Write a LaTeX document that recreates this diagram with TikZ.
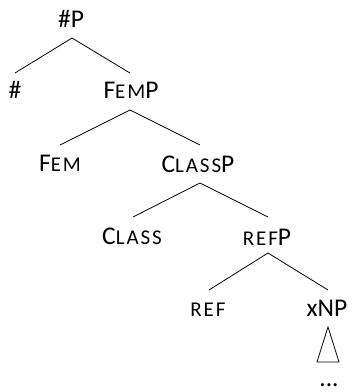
\documentclass[tikz,border=0pt]{standalone}
\usepackage{fontspec}
\setmainfont{Carlito}
\newcommand{\fsc}[1]{{\fontsize{21pt}{23pt}\selectfont\addfontfeature{LetterSpace=9}#1}}
\begin{document}
\begin{tikzpicture}[x=1pt,y=1pt,
  lab/.style={anchor=base,inner sep=0pt,font=\fontsize{25.5pt}{28pt}\selectfont},
  br/.style={line width=0.8pt}]
\useasboundingbox (0,0) rectangle (353,-392);
\node[lab] (hp) at (71,-27) {\#P};
\node[lab] (h) at (15,-98) {\#};
\node[lab] (fp) at (131,-98) {F\fsc{EM}P};
\node[lab] (f) at (60,-171) {F\fsc{EM}};
\node[lab] (cp) at (198,-172) {C\fsc{LASS}P};
\node[lab] (c) at (132,-244) {C\fsc{LASS}};
\node[lab] (rp) at (267,-245) {\fsc{REF}P};
\node[lab] (r) at (208,-316) {\fsc{REF}};
\node[lab] (x) at (327,-316) {xNP};
\node[lab] (d) at (329,-386.5) {...};
\draw[br] ([xshift=1pt,yshift=-11pt]hp.base) -- ([yshift=25pt]h.base);
\draw[br] ([xshift=1pt,yshift=-11pt]hp.base) -- ([xshift=-1pt,yshift=25pt]fp.base);
\draw[br] ([xshift=-1pt,yshift=-12pt]fp.base) -- ([yshift=26pt]f.base);
\draw[br] ([xshift=-1pt,yshift=-12pt]fp.base) -- ([xshift=2pt,yshift=27pt]cp.base);
\draw[br] ([xshift=2pt,yshift=-11pt]cp.base) -- ([xshift=1pt,yshift=27pt]c.base);
\draw[br] ([xshift=2pt,yshift=-11pt]cp.base) -- ([xshift=1pt,yshift=28pt]rp.base);
\draw[br] ([xshift=1pt,yshift=-8pt]rp.base) -- ([xshift=1pt,yshift=26pt]r.base);
\draw[br] ([xshift=1pt,yshift=-8pt]rp.base) -- ([xshift=1pt,yshift=26pt]x.base);
\draw[br] ([xshift=1pt,yshift=-11pt]x.base) -- ([xshift=-10pt,yshift=-46pt]x.base) -- ([xshift=12pt,yshift=-46pt]x.base) -- cycle;
\end{tikzpicture}
\end{document}
